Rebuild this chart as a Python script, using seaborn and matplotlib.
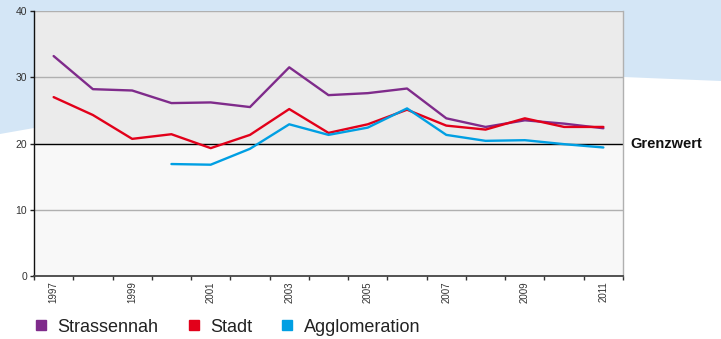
import numpy as np
import pandas as pd
import matplotlib
matplotlib.use("Agg")
import matplotlib.pyplot as plt
from matplotlib.lines import Line2D
from matplotlib.patches import Polygon
import seaborn as sns

years = list(range(1997, 2012))
strassennah = [33.2, 28.2, 28.0, 26.1, 26.2, 25.5, 31.5, 27.3, 27.6, 28.3, 23.8, 22.5, 23.5, 23.0, 22.3]
stadt = [27.0, 24.3, 20.7, 21.4, 19.3, 21.3, 25.2, 21.6, 22.9, 25.1, 22.7, 22.1, 23.8, 22.5, 22.5]
agglomeration = [np.nan, np.nan, np.nan, 16.9, 16.8, 19.2, 22.9, 21.3, 22.4, 25.3, 21.3, 20.4, 20.5, 19.9, 19.4]
series_names = ["Strassennah", "Stadt", "Agglomeration"]
colors = ["#7f2b8b", "#e2001a", "#009fe3"]
y_ticks = [0, 10, 20, 30, 40]
x_labels = [1997, 1999, 2001, 2003, 2005, 2007, 2009, 2011]
grenzwert = 20

df = pd.DataFrame({
    "Jahr": years * 3,
    "Wert": strassennah + stadt + agglomeration,
    "Serie": [series_names[0]] * 15 + [series_names[1]] * 15 + [series_names[2]] * 15,
})

sns.set_style("white")
plt.rcParams["font.family"] = ["Liberation Sans", "DejaVu Sans"]

fig = plt.figure(figsize=(7.21, 3.39), dpi=100)
fig.patch.set_facecolor("white")
W, H = 721, 339
pts = [(0, 0), (W, 0), (W, 81), (623, 77), (34, 128), (0, 134)]
poly = Polygon([(x / W, 1 - y / H) for x, y in pts], closed=True,
               transform=fig.transFigure, facecolor="#d4e6f6", edgecolor="none", zorder=0)
fig.patches.append(poly)

ax = fig.add_axes([34 / W, 1 - 276 / H, (623 - 34) / W, (276 - 11) / H])
ax.set_zorder(1)
ax.axhspan(20, 40, color="#ebebeb", zorder=0, lw=0)
ax.axhspan(0, 20, color="#f8f8f8", zorder=0, lw=0)
for yv in [10, 30, 40]:
    ax.axhline(yv, color="#b0b0b0", lw=1.0, zorder=1)
ax.axhline(grenzwert, color="black", lw=1.0, zorder=1)

sns.lineplot(data=df, x="Jahr", y="Wert", hue="Serie", palette=colors,
             hue_order=series_names, linewidth=1.7, ax=ax, legend=False, zorder=3)

ax.set_xlim(1996.5, 2011.5)
ax.set_ylim(0, 40)
ax.set_xlabel("")
ax.set_ylabel("")
ax.set_yticks(y_ticks)
ax.set_yticklabels([str(v) for v in y_ticks], fontsize=7.5, color="#333333")
ax.set_xticks(x_labels)
ax.set_xticklabels([str(v) for v in x_labels], rotation=90, fontsize=7, color="#333333")
ax.set_xticks(np.arange(1996.5, 2012, 1.0), minor=True)
ax.tick_params(axis="x", which="major", length=0, pad=4)
ax.tick_params(axis="x", which="minor", length=3, width=1, color="#333333", direction="out")
ax.tick_params(axis="y", length=3, width=1, color="#222222", direction="out", pad=2)
ax.tick_params(axis="x", bottom=True, which="both")
ax.tick_params(axis="y", left=True)

ax.spines["left"].set_color("#111111")
ax.spines["left"].set_linewidth(1.0)
ax.spines["bottom"].set_color("#444444")
ax.spines["bottom"].set_linewidth(1.3)
ax.spines["right"].set_color("#b0b0b0")
ax.spines["right"].set_linewidth(1.0)
ax.spines["top"].set_visible(False)
for s in ["left", "bottom", "right"]:
    ax.spines[s].set_visible(True)

ax.text(1.012, grenzwert, "Grenzwert", transform=ax.get_yaxis_transform(),
        fontsize=10.5, fontweight="bold", va="center", ha="left", color="#111111")

handles = [Line2D([0], [0], marker="s", linestyle="none", markersize=7.5,
                  markerfacecolor=c, markeredgecolor=c) for c in colors]
fig.legend(handles, series_names, loc="center left", bbox_to_anchor=(25 / W, 1 - 327 / H),
           ncol=3, frameon=False, fontsize=13, handlelength=0.8, handletextpad=0.5,
           columnspacing=1.55, borderpad=0, labelcolor="#222222")

fig.savefig("out.png", dpi=100)
